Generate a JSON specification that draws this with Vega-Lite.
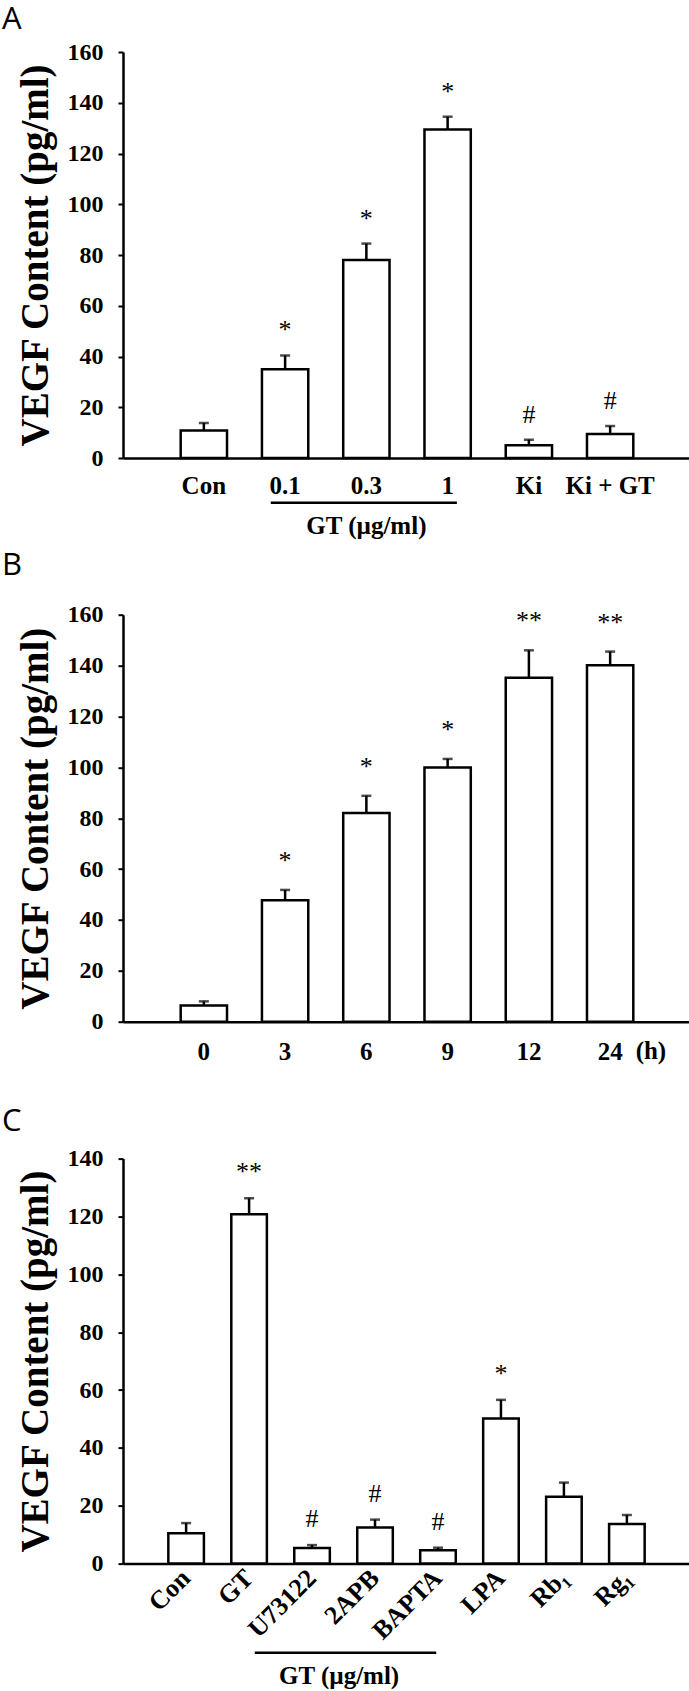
{
  "$schema": "https://vega.github.io/schema/vega-lite/v6.json",
  "padding": {"left": 2, "top": 4, "right": 0, "bottom": 0},
  "background": "white",
  "spacing": 10.7,
  "config": {
    "font": "Liberation Serif",
    "view": {"stroke": null},
    "axis": {"domainColor": "black", "domainWidth": 2.5, "tickColor": "black", "tickWidth": 2, "labelColor": "black", "labelFont": "Liberation Serif", "labelFontWeight": "bold", "titleColor": "black", "titleFont": "Liberation Serif", "titleFontWeight": "bold", "grid": false},
    "title": {"font": "Open Sans", "fontWeight": "normal", "fontSize": 31, "anchor": "start", "color": "black", "dx": -14}
  },
  "vconcat": [
    {
      "title": {"text": "A", "offset": 4},
      "width": 568,
      "height": 406,
      "data": {"values": [
        {"group": "Con", "value": 10.8, "upper": 13.8, "sig": ""},
        {"group": "0.1", "value": 35.0, "upper": 40.4, "sig": "*"},
        {"group": "0.3", "value": 78.0, "upper": 84.5, "sig": "*"},
        {"group": "1", "value": 129.5, "upper": 134.5, "sig": "*"},
        {"group": "Ki", "value": 5.0, "upper": 7.2, "sig": "#"},
        {"group": "Ki + GT", "value": 9.5, "upper": 12.6, "sig": "#"}
      ]},
      "encoding": {
        "x": {"field": "group", "type": "nominal", "sort": null,
              "scale": {"domain": ["Con", "0.1", "0.3", "1", "Ki", "Ki + GT"], "paddingInner": 0.43, "paddingOuter": 0.71},
              "axis": {"title": null, "labelAngle": 0, "ticks": false, "tickSize": 0, "labelPadding": 15, "labelFontSize": 25}}
      },
      "layer": [
        {"mark": {"type": "bar", "fill": "white", "stroke": "black", "strokeWidth": 2.5},
         "encoding": {"y": {"field": "value", "type": "quantitative", "scale": {"domain": [0, 160]},
           "axis": {"title": "VEGF Content (pg/ml)", "titleFontSize": 39, "titlePadding": 12, "labelFontSize": 24, "tickSize": 5, "labelPadding": 15, "values": [0, 20, 40, 60, 80, 100, 120, 140, 160]}}}},
        {"mark": {"type": "rule", "strokeWidth": 2.5, "color": "black"},
         "encoding": {"y": {"field": "value", "type": "quantitative", "scale": {"domain": [0, 160]}}, "y2": {"field": "upper"}}},
        {"mark": {"type": "tick", "color": "black", "thickness": 2.5, "size": 10},
         "encoding": {"y": {"field": "upper", "type": "quantitative", "scale": {"domain": [0, 160]}}}},
        {"mark": {"type": "text", "dy": -17, "fontSize": 26, "baseline": "alphabetic", "color": "black"},
         "encoding": {"y": {"field": "upper", "type": "quantitative", "scale": {"domain": [0, 160]}}, "text": {"field": "sig"}}},
        {"data": {"values": [{}]},
         "mark": {"type": "rule", "strokeWidth": 2.5, "color": "black", "clip": false},
         "encoding": {"x": {"datum": "0.1", "bandPosition": 0.19}, "x2": {"datum": "1", "bandPosition": 0.7}, "y": {"datum": -17.6, "scale": {"domain": [0, 160]}}}},
        {"data": {"values": [{}]},
         "mark": {"type": "text", "fontSize": 25, "fontWeight": "bold", "baseline": "middle", "color": "black", "clip": false},
         "encoding": {"x": {"datum": "0.3"}, "y": {"datum": -26.7, "scale": {"domain": [0, 160]}}, "text": {"value": "GT (µg/ml)"}}}
      ]
    },
    {
      "spacing": 40.9,
      "vconcat": [
        {
          "title": {"text": "B", "offset": 20.8},
          "width": 568,
          "height": 407,
          "data": {"values": [
            {"group": "0", "value": 6.4, "upper": 8.0, "sig": ""},
            {"group": "3", "value": 47.7, "upper": 51.8, "sig": "*"},
            {"group": "6", "value": 82.0, "upper": 88.8, "sig": "*"},
            {"group": "9", "value": 99.9, "upper": 103.3, "sig": "*"},
            {"group": "12", "value": 135.2, "upper": 146.0, "sig": "**"},
            {"group": "24", "value": 140.1, "upper": 145.5, "sig": "**"}
          ]},
          "encoding": {
            "x": {"field": "group", "type": "nominal", "sort": null,
                  "scale": {"domain": ["0", "3", "6", "9", "12", "24"], "paddingInner": 0.43, "paddingOuter": 0.71},
                  "axis": {"title": null, "labelAngle": 0, "ticks": false, "tickSize": 0, "labelPadding": 18, "labelFontSize": 25}}
          },
          "layer": [
            {"mark": {"type": "bar", "fill": "white", "stroke": "black", "strokeWidth": 2.5},
             "encoding": {"y": {"field": "value", "type": "quantitative", "scale": {"domain": [0, 160]},
               "axis": {"title": "VEGF Content (pg/ml)", "titleFontSize": 39, "titlePadding": 12, "labelFontSize": 24, "tickSize": 5, "labelPadding": 15, "values": [0, 20, 40, 60, 80, 100, 120, 140, 160]}}}},
            {"mark": {"type": "rule", "strokeWidth": 2.5, "color": "black"},
             "encoding": {"y": {"field": "value", "type": "quantitative", "scale": {"domain": [0, 160]}}, "y2": {"field": "upper"}}},
            {"mark": {"type": "tick", "color": "black", "thickness": 2.5, "size": 10},
             "encoding": {"y": {"field": "upper", "type": "quantitative", "scale": {"domain": [0, 160]}}}},
            {"mark": {"type": "text", "dy": -21, "fontSize": 26, "baseline": "alphabetic", "color": "black"},
             "encoding": {"y": {"field": "upper", "type": "quantitative", "scale": {"domain": [0, 160]}}, "text": {"field": "sig"}}},
            {"data": {"values": [{}]},
             "mark": {"type": "text", "fontSize": 25, "fontWeight": "bold", "baseline": "middle", "color": "black", "clip": false},
             "encoding": {"x": {"datum": "24", "bandPosition": 1.38}, "y": {"datum": -11.6, "scale": {"domain": [0, 160]}}, "text": {"value": "(h)"}}}
          ]
        },
        {
          "title": {"text": "C", "offset": 9},
          "width": 567,
          "height": 405,
          "data": {"values": [
            {"group": "Con", "value": 10.5, "upper": 14.0, "sig": ""},
            {"group": "GT", "value": 120.8, "upper": 126.3, "sig": "**"},
            {"group": "U73122", "value": 5.4, "upper": 6.4, "sig": "#"},
            {"group": "2APB", "value": 12.5, "upper": 15.2, "sig": "#"},
            {"group": "BAPTA", "value": 4.6, "upper": 5.5, "sig": "#"},
            {"group": "LPA", "value": 50.2, "upper": 56.6, "sig": "*"},
            {"group": "Rb₁", "value": 23.1, "upper": 28.0, "sig": ""},
            {"group": "Rg₁", "value": 13.7, "upper": 16.8, "sig": ""}
          ]},
          "encoding": {
            "x": {"field": "group", "type": "nominal", "sort": null,
                  "scale": {"domain": ["Con", "GT", "U73122", "2APB", "BAPTA", "LPA", "Rb₁", "Rg₁"], "paddingInner": 0.435, "paddingOuter": 0.72},
                  "axis": {"title": null, "labelAngle": -45, "labelAlign": "right", "labelBaseline": "middle", "ticks": false, "tickSize": 0, "labelPadding": 10, "labelFontSize": 26}}
          },
          "layer": [
            {"mark": {"type": "bar", "fill": "white", "stroke": "black", "strokeWidth": 2.5},
             "encoding": {"y": {"field": "value", "type": "quantitative", "scale": {"domain": [0, 140]},
               "axis": {"title": "VEGF Content (pg/ml)", "titleFontSize": 39, "titlePadding": 12, "labelFontSize": 24, "tickSize": 5, "labelPadding": 15, "values": [0, 20, 40, 60, 80, 100, 120, 140]}}}},
            {"mark": {"type": "rule", "strokeWidth": 2.5, "color": "black"},
             "encoding": {"y": {"field": "value", "type": "quantitative", "scale": {"domain": [0, 140]}}, "y2": {"field": "upper"}}},
            {"mark": {"type": "tick", "color": "black", "thickness": 2.5, "size": 10},
             "encoding": {"y": {"field": "upper", "type": "quantitative", "scale": {"domain": [0, 140]}}}},
            {"mark": {"type": "text", "dy": -18, "fontSize": 26, "baseline": "alphabetic", "color": "black"},
             "encoding": {"y": {"field": "upper", "type": "quantitative", "scale": {"domain": [0, 140]}}, "text": {"field": "sig"}}},
            {"data": {"values": [{}]},
             "mark": {"type": "rule", "strokeWidth": 2.5, "color": "black", "clip": false},
             "encoding": {"x": {"datum": "GT", "bandPosition": 0.66}, "x2": {"datum": "BAPTA", "bandPosition": 0.45}, "y": {"datum": -30.8, "scale": {"domain": [0, 140]}}}},
            {"data": {"values": [{}]},
             "mark": {"type": "text", "fontSize": 25, "fontWeight": "bold", "baseline": "middle", "color": "black", "clip": false},
             "encoding": {"x": {"datum": "U73122", "bandPosition": 1.26}, "y": {"datum": -38.7, "scale": {"domain": [0, 140]}}, "text": {"value": "GT (µg/ml)"}}}
          ]
        }
      ]
    }
  ]
}
